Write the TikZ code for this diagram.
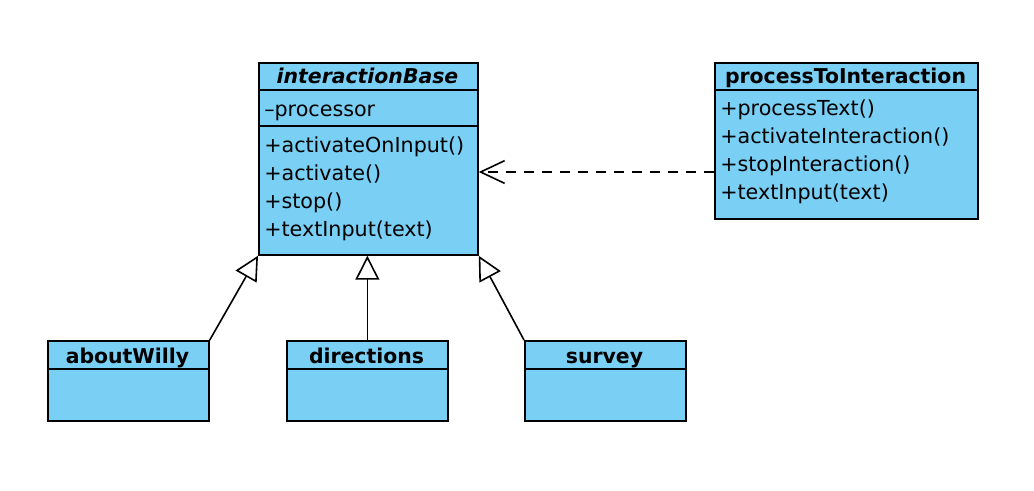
\documentclass[tikz,border=0pt]{standalone}
\usepackage{fontspec}
\setmainfont{DejaVu Sans}
\usetikzlibrary{arrows.meta}
\definecolor{classblue}{RGB}{121,207,244}
\begin{document}
\begin{tikzpicture}%
	[x=0.75pt,
	y=-0.75pt,
	font=\fontsize{15.5pt}{18pt}\selectfont,
	umlclass/.style={draw=black, fill=classblue, line width=1.3pt, inner sep=0pt, anchor=north west},
	divider/.style={line width=1.1pt},
	title/.style={font=\fontsize{15.3pt}{18pt}\selectfont\bfseries, anchor=base, inner sep=0pt},
	abstract/.style={title, font=\fontsize{15.3pt}{18pt}\selectfont\bfseries\itshape},
	member/.style={anchor=base west, inner sep=0pt},
	inherit/.style={line width=1.2pt, -{Triangle[open, length=18pt, width=18pt]}},
	depend/.style={line width=1.2pt, dash pattern=on 7.5pt off 6pt, -{Straight Barb[length=18pt, width=17pt]}}]
%
\useasboundingbox (0,0) rectangle (1034,490);
%
%% The class boxes:
%%
\node[umlclass, minimum width=164.25pt, minimum height=144pt] (interactionBase) at (258,62) {};
\node[umlclass, minimum width=197.25pt, minimum height=117pt] (processToInteraction) at (714,62) {};
\node[umlclass, minimum width=120.75pt, minimum height=60pt] (aboutWilly) at (47,340) {};
\node[umlclass, minimum width=120.75pt, minimum height=60pt] (directions) at (286,340) {};
\node[umlclass, minimum width=120.75pt, minimum height=60pt] (survey) at (524,340) {};
%%
%%
%% Drawing the compartment lines
%%
\draw[divider] ([yshift=-21pt]interactionBase.north west) -- ([yshift=-21pt]interactionBase.north east);
\draw[divider] ([yshift=-48pt]interactionBase.north west) -- ([yshift=-48pt]interactionBase.north east);
\draw[divider] ([yshift=-21pt]processToInteraction.north west) -- ([yshift=-21pt]processToInteraction.north east);
\draw[divider] ([yshift=-21.75pt]aboutWilly.north west) -- ([yshift=-21.75pt]aboutWilly.north east);
\draw[divider] ([yshift=-21.75pt]directions.north west) -- ([yshift=-21.75pt]directions.north east);
\draw[divider] ([yshift=-21.75pt]survey.north west) -- ([yshift=-21.75pt]survey.north east);
%%
%%
%% Class names
%%
\node[abstract] (interactionBase-name) at (367.5,83) {interactionBase};
\node[title] (processToInteraction-name) at (845.5,83) {processToInteraction};
\node[title] (aboutWilly-name) at (127.5,363) {aboutWilly};
\node[title] (directions-name) at (366.5,363) {directions};
\node[title] (survey-name) at (604.5,363) {survey};
%%
%%
%% Attributes and operations
%%
\node[member] (interactionBase-attr) at (264,116) {–processor};
\node[member] (interactionBase-op1) at (264,152) {+activateOnInput()};
\node[member] (interactionBase-op2) at (264,180) {+activate()};
\node[member] (interactionBase-op3) at (264,208) {+stop()};
\node[member] (interactionBase-op4) at (264,236) {+textInput(text)};
\node[member] (processToInteraction-op1) at (720,115) {+processText()};
\node[member] (processToInteraction-op2) at (720,143) {+activateInteraction()};
\node[member] (processToInteraction-op3) at (720,171) {+stopInteraction()};
\node[member] (processToInteraction-op4) at (720,199) {+textInput(text)};
%%
%%
%% Generalisations and the dependency
%%
\draw[inherit] (aboutWilly.north east) -- (interactionBase.south west);
\draw[inherit] (directions.north) -- (directions.north |- interactionBase.south);
\draw[inherit] (survey.north west) -- (interactionBase.south east);
\coordinate (dependency) at (0,172);
\draw[depend] (processToInteraction.west |- dependency) -- (interactionBase.east |- dependency);
%%
%%
\end{tikzpicture}
\end{document}
